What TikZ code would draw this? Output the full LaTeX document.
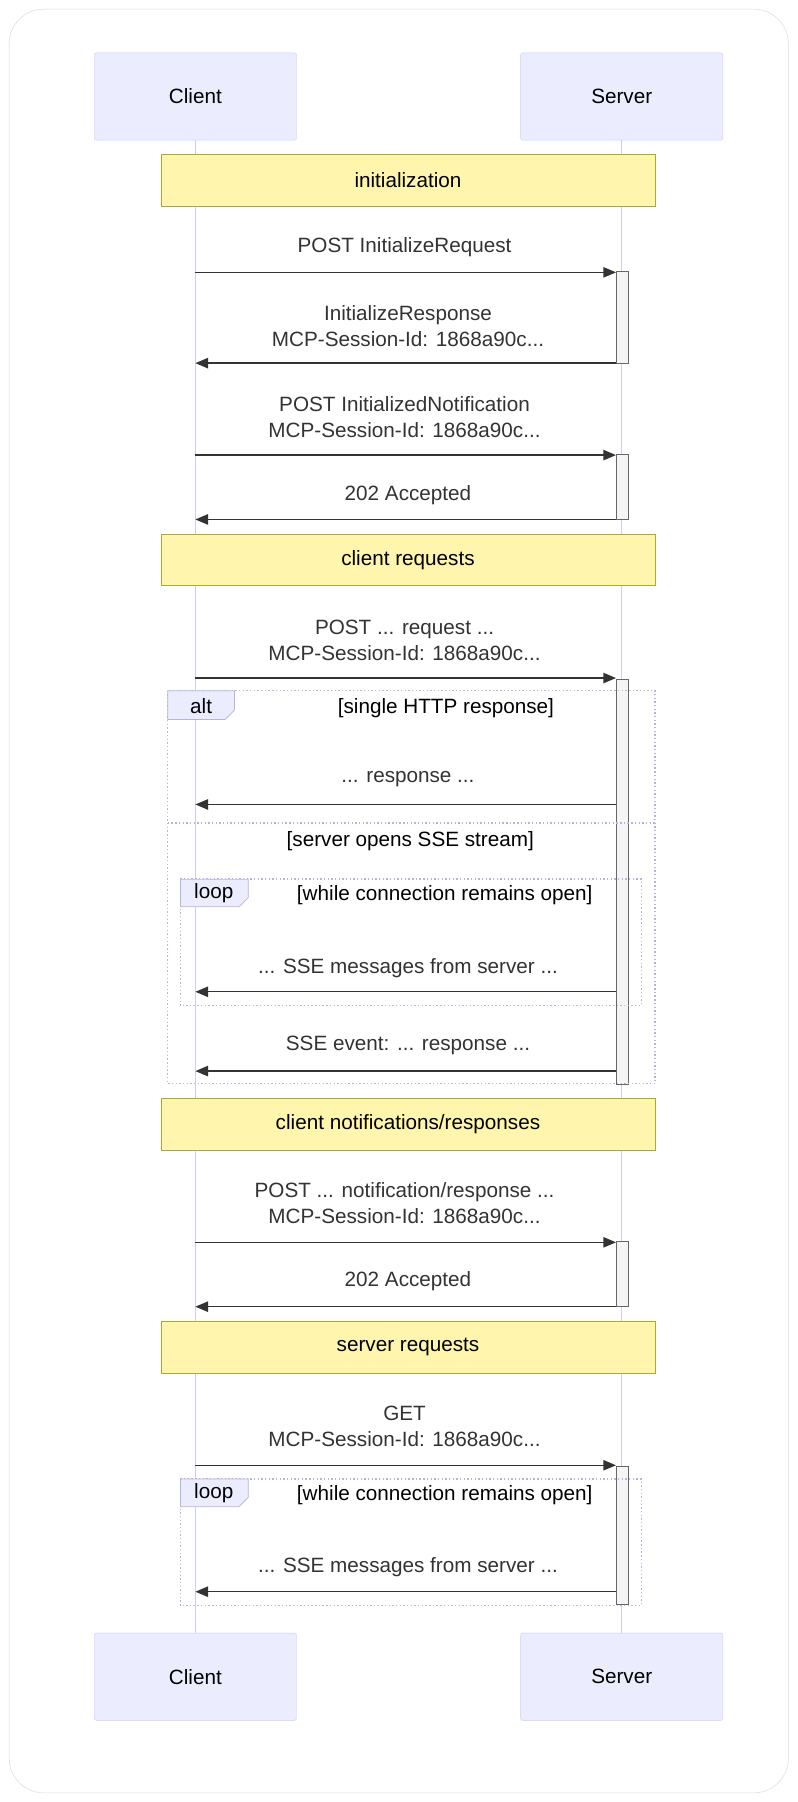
\documentclass[tikz,border=0pt]{standalone}
\usepackage{fontspec}
\setmainfont{Liberation Sans}
\usetikzlibrary{arrows.meta,positioning}
\definecolor{actfill}{HTML}{ECECFF}
\definecolor{actline}{HTML}{CCCCFF}
\definecolor{notefill}{HTML}{FFF5AD}
\definecolor{noteline}{HTML}{AAAA33}
\definecolor{msgtext}{HTML}{333333}
\begin{document}
\begin{tikzpicture}[x=1pt,y=-1pt,
    actor/.style={draw=actline,fill=actfill,rounded corners=2pt,minimum width=176pt,minimum height=76pt,font=\fontsize{18}{21}\selectfont},
    notebox/.style={draw=noteline,fill=notefill,minimum width=430pt,minimum height=45pt,font=\fontsize{18}{21}\selectfont},
    lbl/.style={text=msgtext,align=center,font=\fontsize{18}{23}\selectfont},
    msg/.style={draw=msgtext,line width=1.2pt,-{Triangle[length=11pt,width=9pt]}},
    activ/.style={draw=black!60,fill=black!4},
    frame/.style={draw=actline!70!gray,dotted,line width=1.2pt},
    tab/.style={draw=actline!70!gray,fill=actfill,line width=0.6pt},
    cond/.style={font=\fontsize{18}{21}\selectfont}
  ]
  \draw[black!15,fill=white,rounded corners=30pt] (8,8) rectangle (686,1560);
  \useasboundingbox (0,0) rectangle (694,1568);
  % lifelines
  \draw[actline,line width=1.2pt] (170,122) -- (170,1421);
  \draw[actline,line width=1.2pt] (541,122) -- (541,1421);
  % actors
  \node[actor] (cltop) at (170,84) {Client};
  \node[actor] (srvtop) at (541,84) {Server};
  \node[actor] (clbot) at (170,1459) {Client};
  \node[actor] (srvbot) at (541,1459) {Server};
  % notes
  \node[notebox] (init) at (355,157) {initialization};
  \node[notebox] (creq) at (355,487) {client requests};
  \node[notebox] (cnot) at (355,978) {client notifications/responses};
  \node[notebox] (sreq) at (355,1172) {server requests};
  % activations
  \foreach \a/\b in {236/316,395/452,591/943,1080/1137,1276/1396}
    \draw[activ] (536,\a) rectangle (547,\b);
  % frames
  \draw[frame] (146,601) rectangle (570,943);
  \draw[frame] (146,716) -- (570,716);
  \draw[tab] (146,601) -- (204,601) -- (204,618) -- (196,626) -- (146,626) -- cycle;
  \node[cond] (alttab) at (175,614) {alt};
  \node[cond] (altc1) at (388,616) {[single HTTP response]};
  \node[cond] (altc2) at (357,732) {[server opens SSE stream]};
  \foreach \t/\n in {765/a,1287/b} {
    \draw[frame] (157,\t) rectangle (558,\t+110);
    \draw[tab] (157,\t) -- (216,\t) -- (216,\t+16) -- (208,\t+24) -- (157,\t+24) -- cycle;
    \node[cond] (looptab\n) at (186,\t+12) {loop};
    \node[cond] (loopc\n) at (387,\t+14) {[while connection remains open]};
  }
  % message end points
  \foreach \y [count=\i] in {237,316,396,452,590,700,863,932,1081,1137,1275,1385} {
    \coordinate (c\i) at (170,\y);
    \coordinate (s\i) at (536,\y);
  }
  % messages
  \draw[msg] (c1) -- (s1);
  \node[lbl] (m1) at (352,215) {POST InitializeRequest};
  \draw[msg] (s2) -- (c2);
  \node[lbl] (m2) at (355,284) {InitializeResponse\\MCP-Session-Id: 1868a90c...};
  \draw[msg] (c3) -- (s3);
  \node[lbl] (m3) at (352,363) {POST InitializedNotification\\MCP-Session-Id: 1868a90c...};
  \draw[msg] (s4) -- (c4);
  \node[lbl] (m4) at (355,431) {202 Accepted};
  \draw[msg] (c5) -- (s5);
  \node[lbl] (m5) at (352,557) {POST ... request ...\\MCP-Session-Id: 1868a90c...};
  \draw[msg] (s6) -- (c6);
  \node[lbl] (m6) at (355,678) {... response ...};
  \draw[msg] (s7) -- (c7);
  \node[lbl] (m7) at (355,842) {... SSE messages from server ...};
  \draw[msg] (s8) -- (c8);
  \node[lbl] (m8) at (355,910) {SSE event: ... response ...};
  \draw[msg] (c9) -- (s9);
  \node[lbl] (m9) at (352,1047) {POST ... notification/response ...\\MCP-Session-Id: 1868a90c...};
  \draw[msg] (s10) -- (c10);
  \node[lbl] (m10) at (355,1115) {202 Accepted};
  \draw[msg] (c11) -- (s11);
  \node[lbl] (m11) at (352,1241) {GET\\MCP-Session-Id: 1868a90c...};
  \draw[msg] (s12) -- (c12);
  \node[lbl] (m12) at (355,1364) {... SSE messages from server ...};
\end{tikzpicture}
\end{document}
